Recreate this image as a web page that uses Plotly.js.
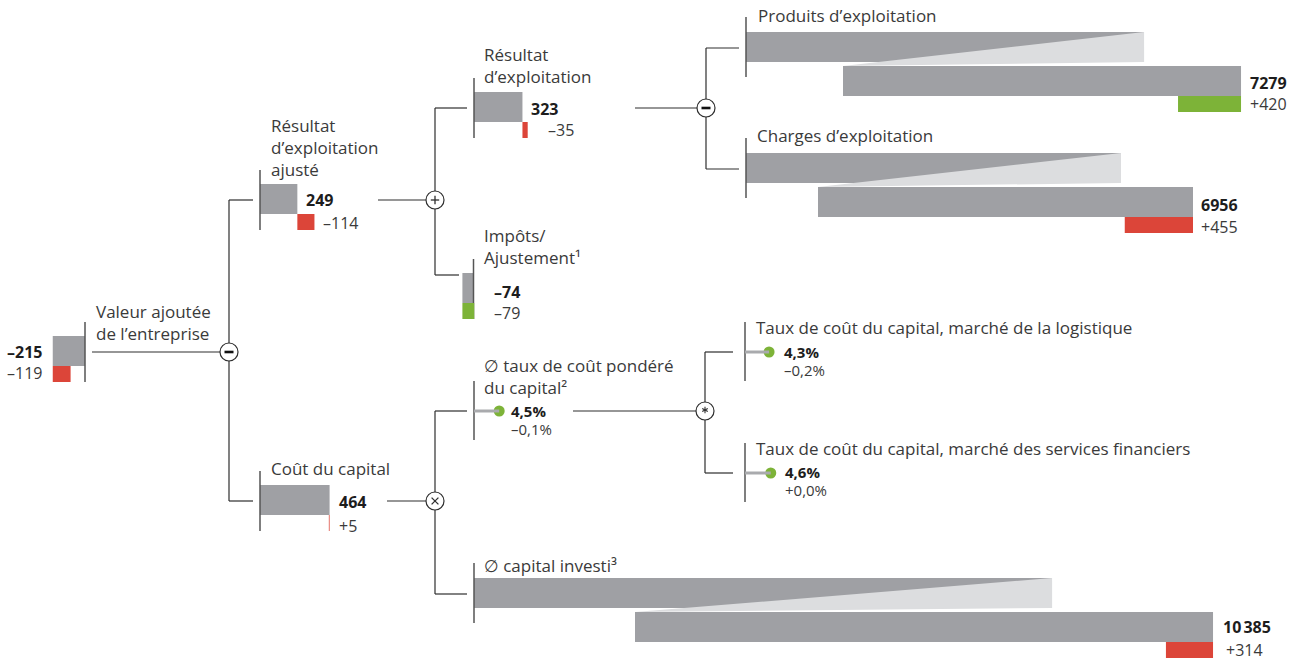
<!DOCTYPE html>
<html>
<head>
<meta charset="utf-8">
<script src="https://cdn.plot.ly/plotly-3.0.1.min.js"></script>
<style>
  html, body { margin: 0; padding: 0; background: #ffffff; }
  #tree { width: 1291px; height: 663px; }
</style>
</head>
<body>
<div id="tree"></div>
<script>
// ---- Value driver tree: figures (CHF million / percent) ----
const nodeIds = ['eva', 'ebitAdj', 'ebit', 'tax', 'capCost', 'wacc', 'waccLog', 'waccFin', 'capInv', 'revenue', 'expenses'];
const nodeLabels = [
  ['Valeur ajoutée', 'de l’entreprise'],
  ['Résultat', 'd’exploitation', 'ajusté'],
  ['Résultat', 'd’exploitation'],
  ['Impôts/', 'Ajustement¹'],
  ['Coût du capital'],
  ['∅ taux de coût pondéré', 'du capital²'],
  ['Taux de coût du capital, marché de la logistique'],
  ['Taux de coût du capital, marché des services financiers'],
  ['∅ capital investi³'],
  ['Produits d’exploitation'],
  ['Charges d’exploitation']
];
const nodeUnits = ['amount', 'amount', 'amount', 'amount', 'amount', 'rate', 'rate', 'rate', 'amount', 'amount', 'amount'];
const nodeValues = [-215, 249, 323, -74, 464, 4.5, 4.3, 4.6, 10385, 7279, 6956];
const nodeChanges = [-119, -114, -35, -79, 5, -0.1, -0.2, 0.0, 314, 420, 455];
const changeFavourable = [false, false, false, true, false, null, null, null, false, true, false];

// Arithmetic links of the tree
const operatorSymbols = ['minus', 'plus', 'minus', 'times', 'star'];
const operatorParents = ['eva', 'ebitAdj', 'ebit', 'capCost', 'wacc'];
const operatorChildren = [['ebitAdj', 'capCost'], ['ebit', 'tax'], ['revenue', 'expenses'], ['wacc', 'capInv'], ['waccLog', 'waccFin']];

// ---- Drawing settings ----
const AMOUNT_SCALE = 0.15;   // px per CHF million
const RATE_SCALE = 5.6;      // px per percentage point
const BAR_H = 30;
const CHANGE_H = 16;
const PIECE_GAP = 4;

const C = {
  bar: '#9fa0a4', wedge: '#dcdddf', bad: '#dc4539', good: '#7db338',
  link: '#2e2e2e', axis: '#555555', stem: '#a9aaad',
  label: '#3a3a3a', value: '#1d1d1d'
};
const FONT = '"Open Sans", "Noto Sans", "DejaVu Sans", sans-serif';
const LABEL_SIZE = 17;
const VALUE_SIZE = 16;
const RATE_SIZE = 15;

// Placement of each node on the page (page-pixel coordinates); labelY is the centre of the label block
const nodeLayout = {
  eva:      { kind: 'bar', ax: 85, top: 336, labelX: 95, labelY: 322.5, valueX: 43, valueY: 352, changeX: 43, changeY: 373, textSide: 'right', outX: 92 },
  ebitAdj:  { kind: 'bar', ax: 260, top: 184, labelX: 270, labelY: 147, valueX: 305, valueY: 200, changeX: 322, changeY: 223, outX: 378, stubX: 253 },
  ebit:     { kind: 'bar', ax: 474, top: 92, labelX: 483, labelY: 65, valueX: 530, valueY: 109, changeX: 547, changeY: 130, outX: 635, stubX: 467 },
  tax:      { kind: 'bar', ax: 473.5, top: 273, labelX: 483, labelY: 246, valueX: 493, valueY: 292, changeX: 493, changeY: 313, stubX: 459, stubY: 275 },
  capCost:  { kind: 'bar', ax: 260, top: 485, labelX: 270, labelY: 468, valueX: 338, valueY: 502, changeX: 338, changeY: 526, outX: 387, stubX: 253 },
  wacc:     { kind: 'dot', ax: 474, cy: 411, labelX: 483, labelY: 376, valueX: 510, valueY: 411, changeX: 510, changeY: 429, outX: 573, stubX: 467 },
  waccLog:  { kind: 'dot', ax: 745, cy: 352, labelX: 755, labelY: 327, valueX: 783, valueY: 352, changeX: 783, changeY: 370, stubX: 733 },
  waccFin:  { kind: 'dot', ax: 745, cy: 473, labelX: 755, labelY: 448, valueX: 784, valueY: 472, changeX: 784, changeY: 490, stubX: 733 },
  capInv:   { kind: 'broken', ax: 474, top: 578, hidden: 2678, shift: 161, labelX: 483, labelY: 565, valueX: 1222, valueY: 627, changeX: 1225, changeY: 650, stubX: 467 },
  revenue:  { kind: 'broken', ax: 746, top: 32, hidden: 1972, shift: 97, labelX: 757, labelY: 15, valueX: 1249, valueY: 83, changeX: 1249, changeY: 104, stubX: 739 },
  expenses: { kind: 'broken', ax: 746, top: 153, hidden: 1956, shift: 72, labelX: 756, labelY: 135, valueX: 1200, valueY: 205, changeX: 1200, changeY: 227, stubX: 739 }
};
const operatorX = [229, 435, 706, 435, 705];
const OP_R = 9;

// ---- Formatting ----
const DASH = '\u2013';
function groupDigits(n) {
  const s = String(Math.round(Math.abs(n)));
  if (s.length < 5) return s;
  return s.replace(/\B(?=(\d{3})+(?!\d))/g, '\u202f');
}
function fmtValue(v, unit) {
  if (unit === 'rate') return (v < 0 ? DASH : '') + Math.abs(v).toFixed(1).replace('.', ',') + '%';
  return (v < 0 ? DASH : '') + groupDigits(v);
}
function fmtChange(d, unit) {
  const sign = d < 0 ? DASH : '+';
  if (unit === 'rate') return sign + Math.abs(d).toFixed(1).replace('.', ',') + '%';
  return sign + groupDigits(d);
}

// ---- Shape helpers ----
const shapes = [];
const annotations = [];
function rect(x0, x1, y0, y1, color) {
  shapes.push({ type: 'rect', xref: 'x', yref: 'y', x0: Math.min(x0, x1), x1: Math.max(x0, x1), y0, y1,
    fillcolor: color, line: { width: 0 }, layer: 'above' });
}
function seg(x0, y0, x1, y1, color, width) {
  shapes.push({ type: 'line', xref: 'x', yref: 'y', x0, y0, x1, y1, line: { color, width }, layer: 'above' });
}
function poly(pts, color) {
  const d = 'M ' + pts.map(p => p[0] + ',' + p[1]).join(' L ') + ' Z';
  shapes.push({ type: 'path', xref: 'x', yref: 'y', path: d, fillcolor: color, line: { width: 0 }, layer: 'above' });
}
function text(x, y, str, size, color, anchor) {
  annotations.push({ xref: 'x', yref: 'y', x, y, text: str, showarrow: false, borderpad: 0,
    xanchor: anchor || 'left', yanchor: 'middle', align: anchor || 'left', font: { family: FONT, size, color } });
}

function linkY(id) {
  const L = nodeLayout[id];
  return L.kind === 'dot' ? L.cy : L.top + 16;
}

// ---- Connectors and operator circles ----
operatorSymbols.forEach((sym, k) => {
  const parent = nodeLayout[operatorParents[k]];
  const cx = operatorX[k];
  const cy = linkY(operatorParents[k]);
  seg(parent.outX, cy, cx - OP_R, cy, C.link, 1.2);
  const ys = operatorChildren[k].map(id => nodeLayout[id].stubY || linkY(id));
  seg(cx, Math.min(...ys), cx, Math.max(...ys), C.link, 1.2);
  operatorChildren[k].forEach((id, j) => seg(cx, ys[j], nodeLayout[id].stubX, ys[j], C.link, 1.2));
  shapes.push({ type: 'circle', xref: 'x', yref: 'y', x0: cx - OP_R, x1: cx + OP_R, y0: cy - OP_R, y1: cy + OP_R,
    fillcolor: '#ffffff', line: { color: C.link, width: 1.2 }, layer: 'above' });
  const a = 4.2;
  if (sym === 'minus') seg(cx - 4.5, cy, cx + 4.5, cy, '#111111', 2.6);
  if (sym === 'plus') { seg(cx - a, cy, cx + a, cy, C.link, 1.3); seg(cx, cy - a, cx, cy + a, C.link, 1.3); }
  if (sym === 'times') { seg(cx - 3.4, cy - 3.4, cx + 3.4, cy + 3.4, C.link, 1.3); seg(cx - 3.4, cy + 3.4, cx + 3.4, cy - 3.4, C.link, 1.3); }
  if (sym === 'star') {
    [90, 30, 150].forEach(deg => {
      const r = deg * Math.PI / 180, dx = 3.2 * Math.cos(r), dy = 3.2 * Math.sin(r);
      seg(cx - dx, cy - 1 - dy, cx + dx, cy - 1 + dy, C.link, 1.1);
    });
  }
});

// ---- Nodes ----
const dotX = [], dotY = [];
nodeIds.forEach((id, i) => {
  const L = nodeLayout[id];
  const v = nodeValues[i], d = nodeChanges[i], unit = nodeUnits[i];
  const changeColor = changeFavourable[i] ? C.good : C.bad;

  if (L.kind === 'bar') {
    const end = L.ax + v * AMOUNT_SCALE;
    const prev = L.ax + (v - d) * AMOUNT_SCALE;
    rect(L.ax, end, L.top, L.top + BAR_H, C.bar);
    seg(L.ax, L.top - 14, L.ax, L.top + BAR_H + CHANGE_H, C.axis, 1.5);
    rect(end, prev, L.top + BAR_H, L.top + BAR_H + CHANGE_H, changeColor);
  } else if (L.kind === 'broken') {
    // long bar split in two pieces; the omitted middle part is shown as a light wedge
    const piece = (v - L.hidden) * AMOUNT_SCALE / 2;
    const lowTop = L.top + BAR_H + PIECE_GAP;
    const lowLeft = L.ax + L.shift;
    const lowRight = lowLeft + piece;
    rect(L.ax, L.ax + piece, L.top, L.top + BAR_H, C.bar);
    poly([[lowLeft, lowTop], [L.ax + piece, L.top], [L.ax + piece, L.top + BAR_H]], C.wedge);
    rect(lowLeft, lowRight, lowTop, lowTop + BAR_H, C.bar);
    seg(L.ax, L.top - 15, L.ax, L.top + 45, C.axis, 1.5);
    rect(lowRight - d * AMOUNT_SCALE, lowRight, lowTop + BAR_H, lowTop + BAR_H + CHANGE_H, changeColor);
  } else {
    const tip = L.ax + v * RATE_SCALE;
    seg(L.ax, L.cy - 30, L.ax, L.cy + 29, C.axis, 1.5);
    seg(L.ax, L.cy, tip, L.cy, C.stem, 3);
    dotX.push(tip); dotY.push(L.cy);
  }

  text(L.labelX, L.labelY, nodeLabels[i].join('<br>'), LABEL_SIZE, C.label, 'left');
  const side = L.textSide || 'left';
  const size = unit === 'rate' ? RATE_SIZE : VALUE_SIZE;
  text(L.valueX, L.valueY, '<b>' + fmtValue(v, unit) + '</b>', size, C.value, side);
  text(L.changeX, L.changeY, fmtChange(d, unit), size, C.label, side);
});

const traces = [{
  type: 'scatter', mode: 'markers', x: dotX, y: dotY, hoverinfo: 'skip',
  marker: { size: 11, color: C.good, line: { width: 0 } }, showlegend: false
}];

const layout = {
  width: 1291, height: 663,
  margin: { l: 0, r: 0, t: 0, b: 0 },
  paper_bgcolor: '#ffffff', plot_bgcolor: '#ffffff',
  xaxis: { range: [0, 1291], visible: false, fixedrange: true },
  yaxis: { range: [663, 0], visible: false, fixedrange: true },
  showlegend: false,
  shapes, annotations
};

Plotly.newPlot('tree', traces, layout, { staticPlot: true, displayModeBar: false });
</script>
</body>
</html>
